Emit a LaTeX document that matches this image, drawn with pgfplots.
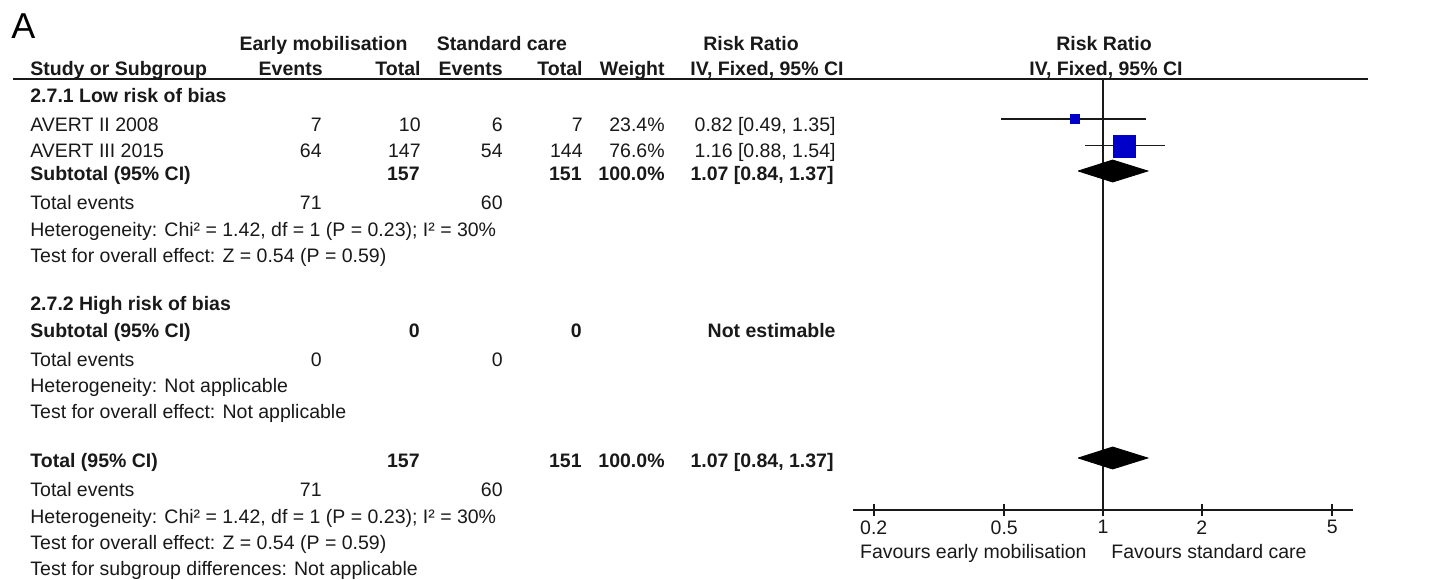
\documentclass[border=0pt]{standalone}
\usepackage{fontspec}
\setmainfont{Liberation Sans}
\usepackage{pgfplots}
\pgfplotsset{compat=1.18}
\definecolor{sqblue}{RGB}{0,0,200}
\definecolor{txt}{RGB}{25,25,25}
\newcommand\fs{\fontsize{9.75}{11}\selectfont}
\newcommand\Lt[3]{\node[anchor=base west,inner sep=0pt,text=txt] at (#1,#2) {\fs #3};}
\newcommand\Rt[3]{\node[anchor=base east,inner sep=0pt,text=txt] at (#1,#2) {\fs #3};}
\newcommand\Ct[3]{\node[anchor=base,inner sep=0pt,text=txt] at (#1,#2) {\fs #3};}
\newcommand\LB[3]{\node[anchor=base west,inner sep=0pt,text=txt] at (#1,#2) {\fs\bfseries #3};}
\newcommand\RB[3]{\node[anchor=base east,inner sep=0pt,text=txt] at (#1,#2) {\fs\bfseries #3};}
\newcommand\CB[3]{\node[anchor=base,inner sep=0pt,text=txt] at (#1,#2) {\fs\bfseries #3};}
\begin{document}
\begin{tikzpicture}
\begin{scope}[x=0.5pt,y=-0.5pt]
\useasboundingbox (0,0) rectangle (1434,579);
% panel letter
\node[anchor=base west,inner sep=0pt] at (11,38) {\fontsize{18}{20}\selectfont A};
% header
\CB{323.5}{50}{Early mobilisation}
\CB{502}{50}{Standard care}
\CB{751}{50}{Risk Ratio}
\CB{1104}{50}{Risk Ratio}
\LB{30}{75}{Study or Subgroup}
\RB{323}{75}{Events}
\RB{421}{75}{Total}
\RB{503}{75}{Events}
\RB{583}{75}{Total}
\RB{665}{75}{Weight}
\CB{767}{75}{IV, Fixed, 95\% CI}
\CB{1106}{75}{IV, Fixed, 95\% CI}
\draw[line width=1pt,txt] (13,79) -- (1368,79);
% group 1
\LB{30}{102}{2.7.1 Low risk of bias}
\Lt{30}{131}{AVERT II 2008}
\Rt{322}{131}{7}\Rt{421}{131}{10}\Rt{503}{131}{6}\Rt{583}{131}{7}\Rt{665}{131}{23.4\%}
\Rt{836}{131}{0.82 [0.49, 1.35]}
\Lt{30}{157}{AVERT III 2015}
\Rt{322}{157}{64}\Rt{421}{157}{147}\Rt{503}{157}{54}\Rt{583}{157}{144}\Rt{665}{157}{76.6\%}
\Rt{836}{157}{1.16 [0.88, 1.54]}
\LB{30}{180}{Subtotal (95\% CI)}
\RB{420}{180}{157}\RB{582}{180}{151}\RB{665}{180}{100.0\%}\RB{834}{180}{1.07 [0.84, 1.37]}
\Lt{30}{209}{Total events}
\Rt{322}{209}{71}\Rt{503}{209}{60}
\Lt{30}{236}{Heterogeneity: Chi² = 1.42, df = 1 (P = 0.23); I² = 30\%}
\Lt{30}{262}{Test for overall effect: Z = 0.54 (P = 0.59)}
% group 2
\LB{30}{310}{2.7.2 High risk of bias}
\LB{30}{337}{Subtotal (95\% CI)}
\RB{420}{337}{0}\RB{582}{337}{0}\RB{836}{337}{Not estimable}
\Lt{30}{366}{Total events}
\Rt{322}{366}{0}\Rt{503}{366}{0}
\Lt{30}{392}{Heterogeneity: Not applicable}
\Lt{30}{418}{Test for overall effect: Not applicable}
% total
\LB{30}{467}{Total (95\% CI)}
\RB{420}{467}{157}\RB{582}{467}{151}\RB{665}{467}{100.0\%}\RB{834}{467}{1.07 [0.84, 1.37]}
\Lt{30}{496}{Total events}
\Rt{322}{496}{71}\Rt{503}{496}{60}
\Lt{30}{523}{Heterogeneity: Chi² = 1.42, df = 1 (P = 0.23); I² = 30\%}
\Lt{30}{549}{Test for overall effect: Z = 0.54 (P = 0.59)}
\Lt{30}{575}{Test for subgroup differences: Not applicable}
% favours
\Rt{1087}{558}{Favours early mobilisation}
\Lt{1111}{558}{Favours standard care}
\end{scope}
% forest plot
\begin{axis}[
  at={(426.5pt,-255pt)}, anchor=south west,
  scale only axis, width=250pt, height=215.5pt,
  xmode=log, xmin=0.1729, xmax=5.784, ymin=-510, ymax=-79,
  axis x line*=bottom, axis y line=none,
  x axis line style={line width=0.8pt,txt},
  xtick={0.2,0.5,1,2,5}, xticklabels={0.2,0.5,1,2,5},
  xminorticks=false,
  xtick align=center, major tick length=6pt,
  major tick style={line width=0.8pt,txt},
  xticklabel style={font=\fs, text=txt, inner sep=0pt, anchor=north, yshift=-2pt},
  /pgf/number format/assume math mode=true,
  clip=false,
]
\draw[line width=0.85pt,txt] (axis cs:1,-79) -- (axis cs:1,-510);
\addplot[txt, line width=0.55pt, no marks] coordinates {(0.49,-119) (1.35,-119)};
\addplot[txt, line width=0.85pt, no marks] coordinates {(0.88,-145.5) (1.54,-145.5)};
\addplot[only marks, mark=square*, mark size=2.25pt, sqblue, mark options={draw=sqblue,fill=sqblue}] coordinates {(0.82,-119)};
\addplot[only marks, mark=square*, mark size=5.5pt, sqblue, mark options={draw=sqblue,fill=sqblue}] coordinates {(1.16,-146)};
\addplot[fill=black, draw=black, no marks] coordinates {(0.84,-171) (1.07,-160) (1.37,-171) (1.07,-182) (0.84,-171)};
\addplot[fill=black, draw=black, no marks] coordinates {(0.84,-458) (1.07,-447) (1.37,-458) (1.07,-469) (0.84,-458)};
\end{axis}
\end{tikzpicture}
\end{document}
